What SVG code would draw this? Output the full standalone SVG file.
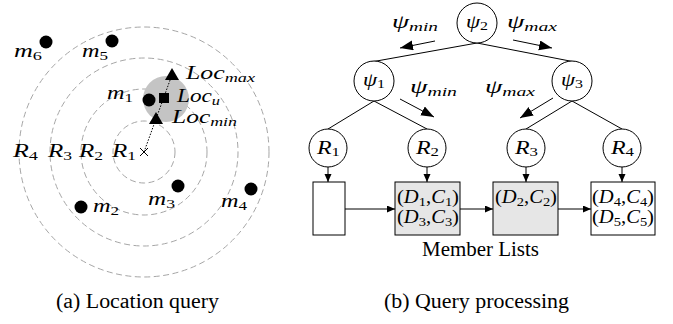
<svg xmlns="http://www.w3.org/2000/svg" width="673" height="324" viewBox="0 0 673 324">
<style>
text{font-family:"Liberation Serif","Times New Roman",serif;fill:#000}
.mt{font-size:18.5px;font-style:italic}
.s{font-size:13px}
.up{font-style:normal}
.cap{font-size:20px}
.ring{fill:none;stroke:#a6a6a6;stroke-width:1;stroke-dasharray:6,3.5}
.dot{fill:#000}
.nd{fill:#fff;stroke:#000;stroke-width:1}
.ln{fill:none;stroke:#000;stroke-width:1}
.box{stroke:#000;stroke-width:1}
</style>
<defs>
<marker id="big" markerUnits="userSpaceOnUse" markerWidth="14" markerHeight="12" refX="13" refY="5" orient="auto">
<path d="M0,0 L13,5 L0,10 Z" fill="#000"/>
</marker>
<marker id="sm" markerUnits="userSpaceOnUse" markerWidth="9" markerHeight="8" refX="8" refY="3.5" orient="auto">
<path d="M0,0 L8,3.5 L0,7 Z" fill="#000"/>
</marker>
</defs>

<g id="panel-a">
<g id="rings">
<circle class="ring" cx="144" cy="152" r="31"/>
<circle class="ring" cx="144" cy="152" r="63"/>
<circle class="ring" cx="144" cy="152" r="94"/>
<circle class="ring" cx="144" cy="152" r="125"/>
</g>
<circle id="uncertainty" cx="166" cy="99" r="23" fill="#c4c4c4"/>
<line class="ln" x1="144" y1="152" x2="173" y2="72" stroke-width="1.3" stroke-dasharray="1.5,1.5"/>
<g id="origin"><path class="ln" d="M140,148 L148,156 M148,148 L140,156"/></g>
<g id="m1"><circle class="dot" cx="149" cy="100" r="6.5"/></g>
<g id="locu"><rect x="159" y="93" width="10" height="10" fill="#000"/></g>
<g id="locmax"><path d="M172,68 L179,80 L165,80 Z" fill="#000"/></g>
<g id="locmin"><path d="M156,112 L163,124 L149,124 Z" fill="#000"/></g>
<g id="m6"><circle class="dot" cx="46" cy="42" r="6.5"/></g>
<g id="m5"><circle class="dot" cx="112" cy="41" r="6.5"/></g>
<g id="m2"><circle class="dot" cx="81" cy="207" r="6.5"/></g>
<g id="m3"><circle class="dot" cx="178" cy="186" r="6.5"/></g>
<g id="m4"><circle class="dot" cx="251" cy="189" r="6.5"/></g>
<g id="labels-a">
<text class="mt" x="14" y="57" textLength="28" lengthAdjust="spacingAndGlyphs">m<tspan class="s up" dy="3">6</tspan></text>
<text class="mt" x="82" y="57" textLength="26" lengthAdjust="spacingAndGlyphs">m<tspan class="s up" dy="3">5</tspan></text>
<text class="mt" x="107" y="99" textLength="26" lengthAdjust="spacingAndGlyphs">m<tspan class="s up" dy="3">1</tspan></text>
<text class="mt" x="186" y="79" textLength="69" lengthAdjust="spacingAndGlyphs">Loc<tspan class="s" dy="3">max</tspan></text>
<text class="mt" x="177" y="102" textLength="43" lengthAdjust="spacingAndGlyphs">Loc<tspan class="s" dy="3">u</tspan></text>
<text class="mt" x="172" y="123" textLength="65" lengthAdjust="spacingAndGlyphs">Loc<tspan class="s" dy="3">min</tspan></text>
<text class="mt" x="13" y="157" textLength="25" lengthAdjust="spacingAndGlyphs">R<tspan class="s up" dy="3">4</tspan></text>
<text class="mt" x="48" y="157" textLength="24" lengthAdjust="spacingAndGlyphs">R<tspan class="s up" dy="3">3</tspan></text>
<text class="mt" x="79" y="157" textLength="24" lengthAdjust="spacingAndGlyphs">R<tspan class="s up" dy="3">2</tspan></text>
<text class="mt" x="112" y="157" textLength="24" lengthAdjust="spacingAndGlyphs">R<tspan class="s up" dy="3">1</tspan></text>
<text class="mt" x="93" y="212" textLength="26" lengthAdjust="spacingAndGlyphs">m<tspan class="s up" dy="3">2</tspan></text>
<text class="mt" x="148" y="205" textLength="27" lengthAdjust="spacingAndGlyphs">m<tspan class="s up" dy="3">3</tspan></text>
<text class="mt" x="221" y="207" textLength="26" lengthAdjust="spacingAndGlyphs">m<tspan class="s up" dy="3">4</tspan></text>
</g>
<text class="cap" x="56" y="308" textLength="163" lengthAdjust="spacingAndGlyphs">(a) Location query</text>
</g>

<g id="connectors">
<line class="ln" x1="477" y1="43" x2="371" y2="62"/>
<line class="ln" x1="477" y1="43" x2="575" y2="62"/>
<line class="ln" x1="374" y1="101" x2="328" y2="129"/>
<line class="ln" x1="374" y1="101" x2="427" y2="129"/>
<line class="ln" x1="572" y1="101" x2="526" y2="129"/>
<line class="ln" x1="572" y1="101" x2="622" y2="129"/>
<line class="ln" x1="435" y1="41" x2="400" y2="48" marker-end="url(#big)"/>
<line class="ln" x1="513" y1="40" x2="552" y2="48" marker-end="url(#big)"/>
<line class="ln" x1="400" y1="99" x2="434" y2="117" marker-end="url(#big)"/>
<line class="ln" x1="553" y1="98" x2="520" y2="118" marker-end="url(#big)"/>
<line class="ln" x1="328" y1="167" x2="328" y2="182" marker-end="url(#sm)"/>
<line class="ln" x1="427" y1="167" x2="427" y2="182" marker-end="url(#sm)"/>
<line class="ln" x1="526" y1="167" x2="526" y2="182" marker-end="url(#sm)"/>
<line class="ln" x1="622" y1="167" x2="622" y2="182" marker-end="url(#sm)"/>
<line class="ln" x1="345" y1="209" x2="395" y2="209" marker-end="url(#sm)"/>
<line class="ln" x1="460" y1="209" x2="493" y2="209" marker-end="url(#sm)"/>
<line class="ln" x1="558" y1="209" x2="591" y2="209" marker-end="url(#sm)"/>
</g>

<g id="edge-labels">
<text class="mt" x="392" y="28" textLength="46" lengthAdjust="spacingAndGlyphs">ψ<tspan class="s" dy="3">min</tspan></text>
<text class="mt" x="507" y="28" textLength="50" lengthAdjust="spacingAndGlyphs">ψ<tspan class="s" dy="3">max</tspan></text>
<text class="mt" x="410" y="93" textLength="47" lengthAdjust="spacingAndGlyphs">ψ<tspan class="s" dy="3">min</tspan></text>
<text class="mt" x="485" y="93" textLength="50" lengthAdjust="spacingAndGlyphs">ψ<tspan class="s" dy="3">max</tspan></text>
</g>

<g id="psi2"><circle class="nd" cx="477" cy="23" r="20"/><text class="mt" x="466" y="28" textLength="22" lengthAdjust="spacingAndGlyphs">ψ<tspan class="s up" dy="2">2</tspan></text></g>
<g id="psi1"><circle class="nd" cx="374" cy="81" r="20"/><text class="mt" x="363" y="86" textLength="22" lengthAdjust="spacingAndGlyphs">ψ<tspan class="s up" dy="2">1</tspan></text></g>
<g id="psi3"><circle class="nd" cx="572" cy="81" r="20"/><text class="mt" x="561" y="86" textLength="22" lengthAdjust="spacingAndGlyphs">ψ<tspan class="s up" dy="2">3</tspan></text></g>

<g id="R1"><circle class="nd" cx="328" cy="148" r="19"/><text class="mt" x="317" y="154" textLength="23" lengthAdjust="spacingAndGlyphs">R<tspan class="s up" dy="2">1</tspan></text></g>
<g id="R2"><circle class="nd" cx="427" cy="148" r="19"/><text class="mt" x="416" y="154" textLength="23" lengthAdjust="spacingAndGlyphs">R<tspan class="s up" dy="2">2</tspan></text></g>
<g id="R3"><circle class="nd" cx="526" cy="148" r="19"/><text class="mt" x="515" y="154" textLength="23" lengthAdjust="spacingAndGlyphs">R<tspan class="s up" dy="2">3</tspan></text></g>
<g id="R4"><circle class="nd" cx="622" cy="148" r="19"/><text class="mt" x="611" y="154" textLength="23" lengthAdjust="spacingAndGlyphs">R<tspan class="s up" dy="2">4</tspan></text></g>

<g id="list1"><rect class="box" x="313" y="182" width="32" height="53" fill="#fff"/></g>
<g id="list2"><rect class="box" x="395" y="182" width="65" height="53" fill="#e6e6e6"/>
<text class="mt up" x="397" y="203" textLength="62" lengthAdjust="spacingAndGlyphs">(<tspan font-style="italic">D</tspan><tspan class="s" dy="3">1</tspan><tspan dy="-3">,</tspan><tspan font-style="italic">C</tspan><tspan class="s" dy="3">1</tspan><tspan dy="-3">)</tspan></text>
<text class="mt up" x="397" y="223" textLength="62" lengthAdjust="spacingAndGlyphs">(<tspan font-style="italic">D</tspan><tspan class="s" dy="3">3</tspan><tspan dy="-3">,</tspan><tspan font-style="italic">C</tspan><tspan class="s" dy="3">3</tspan><tspan dy="-3">)</tspan></text>
</g>
<g id="list3"><rect class="box" x="493" y="182" width="65" height="53" fill="#e6e6e6"/>
<text class="mt up" x="495" y="203" textLength="62" lengthAdjust="spacingAndGlyphs">(<tspan font-style="italic">D</tspan><tspan class="s" dy="3">2</tspan><tspan dy="-3">,</tspan><tspan font-style="italic">C</tspan><tspan class="s" dy="3">2</tspan><tspan dy="-3">)</tspan></text>
</g>
<g id="list4"><rect class="box" x="591" y="182" width="64" height="53" fill="#fff"/>
<text class="mt up" x="592" y="203" textLength="62" lengthAdjust="spacingAndGlyphs">(<tspan font-style="italic">D</tspan><tspan class="s" dy="3">4</tspan><tspan dy="-3">,</tspan><tspan font-style="italic">C</tspan><tspan class="s" dy="3">4</tspan><tspan dy="-3">)</tspan></text>
<text class="mt up" x="592" y="223" textLength="62" lengthAdjust="spacingAndGlyphs">(<tspan font-style="italic">D</tspan><tspan class="s" dy="3">5</tspan><tspan dy="-3">,</tspan><tspan font-style="italic">C</tspan><tspan class="s" dy="3">5</tspan><tspan dy="-3">)</tspan></text>
</g>
<text class="cap" x="422" y="256" textLength="117" lengthAdjust="spacingAndGlyphs">Member Lists</text>
<text class="cap" x="384" y="308" textLength="185" lengthAdjust="spacingAndGlyphs">(b) Query processing</text>
</svg>
